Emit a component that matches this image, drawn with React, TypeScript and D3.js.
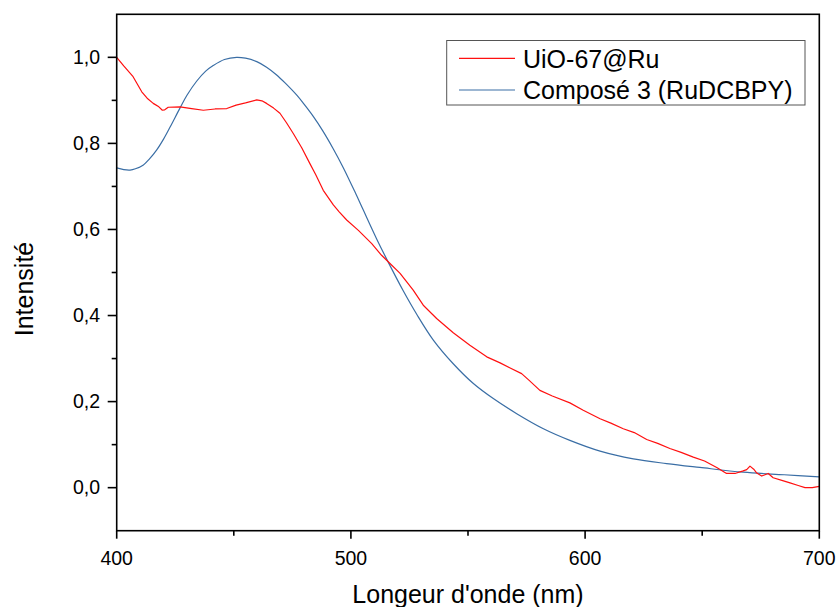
import React from "react";
import * as d3 from "d3";

const redWavelength = [400, 403, 407, 410.7, 413, 415.6, 418, 419.5, 420.5, 422, 427, 432, 437, 442, 447, 451, 455, 459.8, 462, 464, 467, 469.7, 472.5, 475.4, 479, 482.5, 485, 488.2, 492.5, 495, 498.2, 503.2, 508.9, 513.1, 516.7, 521, 526.6, 530.9, 536.6, 543.7, 550.8, 558, 563.7, 568, 572.9, 576, 580.7, 586, 593.5, 599.2, 606.4, 611, 616.3, 621, 626.3, 631, 636.2, 641, 646.2, 651, 656.2, 660.4, 664, 667.5, 669, 670.4, 672, 673.3, 675.4, 678.2, 680.3, 684, 687.5, 691, 693.9, 697, 700];
const redIntensity = [1.0, 0.98, 0.955, 0.92, 0.905, 0.893, 0.885, 0.877, 0.878, 0.884, 0.885, 0.881, 0.877, 0.88, 0.881, 0.889, 0.894, 0.901, 0.899, 0.893, 0.882, 0.87, 0.848, 0.823, 0.79, 0.753, 0.727, 0.691, 0.657, 0.641, 0.622, 0.598, 0.567, 0.54, 0.521, 0.498, 0.459, 0.424, 0.393, 0.36, 0.331, 0.304, 0.29, 0.278, 0.265, 0.25, 0.226, 0.213, 0.197, 0.18, 0.16, 0.15, 0.137, 0.128, 0.112, 0.103, 0.091, 0.082, 0.071, 0.062, 0.047, 0.033, 0.033, 0.039, 0.042, 0.05, 0.043, 0.034, 0.027, 0.033, 0.023, 0.017, 0.011, 0.005, 0.0, 0.0, 0.003];

const blueWavelength = [400, 403, 405.7, 408, 411.4, 414, 417.1, 420, 422.8, 427, 430, 434.2, 438, 441.2, 446, 451.2, 455, 459.8, 464, 468.3, 472, 476.9, 480, 484, 488, 492.5, 496.8, 502, 505.3, 511, 516.7, 522.4, 528.1, 535.2, 543.7, 552.3, 560.8, 570.8, 582.2, 593.5, 606.4, 620.6, 634.8, 649, 667.5, 685, 700];
const blueIntensity = [0.743, 0.739, 0.738, 0.741, 0.75, 0.764, 0.785, 0.81, 0.838, 0.882, 0.912, 0.945, 0.968, 0.981, 0.995, 1.0, 0.998, 0.99, 0.977, 0.959, 0.94, 0.912, 0.891, 0.862, 0.829, 0.787, 0.743, 0.684, 0.645, 0.578, 0.516, 0.457, 0.403, 0.343, 0.288, 0.242, 0.207, 0.172, 0.137, 0.11, 0.085, 0.067, 0.056, 0.047, 0.036, 0.03, 0.025];

const xMajorTicks = [400, 500, 600, 700];
const xMinorTicks = [450, 550, 650];
const yMajorTicks = [0, 0.2, 0.4, 0.6, 0.8, 1.0];
const yMinorTicks = [0.1, 0.3, 0.5, 0.7, 0.9];
const seriesNames = ["UiO-67@Ru", "Composé 3 (RuDCBPY)"];
const seriesColors = ["#ff1010", "#3a6ea5"];

const W = 839, H = 607;
const L = 116.7, R = 819.3, T = 14.3, B = 530.7;
const FONT = "'Liberation Sans', Arial, sans-serif";

export default function App() {
  const x = d3.scaleLinear().domain([400, 700]).range([L, R]);
  const y = d3.scaleLinear().domain([-0.1, 1.1]).range([B, T]);
  const line = d3.line<[number, number]>().x(d => x(d[0])).y(d => y(d[1]));
  const smooth = d3.line<[number, number]>().x(d => x(d[0])).y(d => y(d[1])).curve(d3.curveCatmullRom.alpha(0.5));
  const red: [number, number][] = redWavelength.map((w, i) => [w, redIntensity[i]]);
  const blue: [number, number][] = blueWavelength.map((w, i) => [w, blueIntensity[i]]);
  const fmt = (v: number) => v.toFixed(1).replace(".", ",");

  return (
    <svg width={W} height={H} style={{ position: "absolute", left: 0, top: 0 }} fontFamily={FONT}>
      <rect width={W} height={H} fill="#fff" />
      <defs>
        <clipPath id="plot"><rect x={L} y={T} width={R - L} height={B - T} /></clipPath>
      </defs>
      <g clipPath="url(#plot)" fill="none" strokeWidth={1.2} strokeLinejoin="round">
        <path d={smooth(blue) || ""} stroke={seriesColors[1]} />
        <path d={line(red) || ""} stroke={seriesColors[0]} />
      </g>
      <rect x={L} y={T} width={R - L} height={B - T} fill="none" stroke="#000" strokeWidth={1.6} />
      {xMajorTicks.map(t => (
        <g key={"xm" + t}>
          <line x1={x(t)} x2={x(t)} y1={B} y2={B + 8} stroke="#000" strokeWidth={1.6} />
          <text x={x(t)} y={565} textAnchor="middle" fontSize={19.5}>{t}</text>
        </g>
      ))}
      {xMinorTicks.map(t => (
        <line key={"xn" + t} x1={x(t)} x2={x(t)} y1={B} y2={B + 5} stroke="#000" strokeWidth={1.6} />
      ))}
      {yMajorTicks.map(t => (
        <g key={"ym" + t}>
          <line x1={L - 9} x2={L} y1={y(t)} y2={y(t)} stroke="#000" strokeWidth={1.6} />
          <text x={100} y={y(t)} dy="0.35em" textAnchor="end" fontSize={19.5}>{fmt(t)}</text>
        </g>
      ))}
      {yMinorTicks.map(t => (
        <line key={"yn" + t} x1={L - 5} x2={L} y1={y(t)} y2={y(t)} stroke="#000" strokeWidth={1.6} />
      ))}
      <text x={(L + R) / 2} y={603} textAnchor="middle" fontSize={25}>Longeur d'onde (nm)</text>
      <text transform="translate(33,289) rotate(-90)" textAnchor="middle" fontSize={25}>Intensité</text>
      <rect x={446.7} y={40.5} width={358.3} height={64.5} fill="#fff" stroke="#555" strokeWidth={1} />
      {seriesNames.map((n, i) => (
        <g key={n}>
          <line x1={459} x2={515} y1={58.3 + i * 31.7} y2={58.3 + i * 31.7} stroke={seriesColors[i]} strokeWidth={1.2} />
          <text x={523} y={67.5 + i * 31} fontSize={25}>{n}</text>
        </g>
      ))}
    </svg>
  );
}
